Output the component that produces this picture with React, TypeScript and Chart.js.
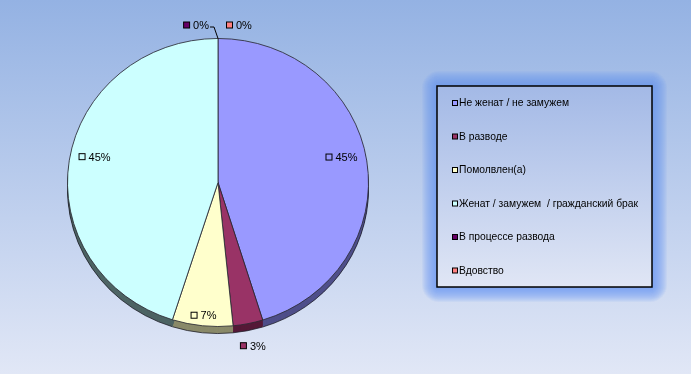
import React, { useEffect, useRef } from "react";
import { Chart, registerables } from "chart.js";

Chart.register(...registerables);

const categories = [
  "Не женат / не замужем",
  "В разводе",
  "Помолвлен(а)",
  "Женат / замужем  / гражданский брак",
  "В процессе развода",
  "Вдовство",
];
const values = [45.2, 3.2, 6.5, 45.1, 0, 0];
const percentLabels = ["45%", "3%", "7%", "45%", "0%", "0%"];
const sliceColors = ["#9999ff", "#993366", "#ffffcc", "#ccffff", "#660066", "#ff8080"];
const sideColors = ["#4f4f8a", "#561a38", "#8a8a6a", "#4d6464", "#330033", "#8f4848"];

// label placement styling (radius factor, alignment, vertical nudge)
const labelRadius = [0.83, 1.16, 0.93, 0.83, 1.09, 1.09];
const labelAlign = ["center", "center", "center", "center", "right", "left"];
const labelNudge = [-7, 0, 0, -7, 0, 0];

const Y_SCALE = 0.957;
const DEPTH = 7;
const FONT = '11px "Liberation Sans", Arial, sans-serif';
const LEGEND_FONT = '10.3px "Liberation Sans", Arial, sans-serif';

function pieGeom(chart: any) {
  const meta = chart.getDatasetMeta(0);
  const a = meta.data[0] as any;
  return { cx: a.x, cy: a.y, r: a.outerRadius, meta };
}

const bgPlugin = {
  id: "bg",
  beforeDraw(chart: any) {
    const { ctx, width, height } = chart;
    ctx.save();
    const g = ctx.createLinearGradient(0, 0, 0, height);
    g.addColorStop(0, "#94b2e3");
    g.addColorStop(1, "#e1e7f6");
    ctx.fillStyle = g;
    ctx.fillRect(0, 0, width, height);
    ctx.restore();
  },
};

const pie3dPlugin = {
  id: "pie3d",
  beforeDatasetsDraw(chart: any) {
    const { ctx } = chart;
    const { cx, cy, meta } = pieGeom(chart);
    ctx.save();
    ctx.translate(cx, cy);
    ctx.scale(1, Y_SCALE);
    ctx.translate(-cx, -cy);
    const d = DEPTH / Y_SCALE;
    meta.data.forEach((arc: any, i: number) => {
      if (arc.endAngle - arc.startAngle <= 0) return;
      for (let k = d; k >= 1; k -= 0.5) {
        ctx.beginPath();
        ctx.moveTo(arc.x, arc.y + k);
        ctx.arc(arc.x, arc.y + k, arc.outerRadius, arc.startAngle, arc.endAngle);
        ctx.closePath();
        ctx.fillStyle = sideColors[i];
        ctx.fill();
      }
      ctx.beginPath();
      ctx.arc(arc.x, arc.y + d, arc.outerRadius, arc.startAngle, arc.endAngle);
      ctx.strokeStyle = "rgba(30,30,40,0.8)";
      ctx.lineWidth = 1;
      ctx.stroke();
    });
  },
  afterDatasetsDraw(chart: any) {
    chart.ctx.restore();
  },
};

const labelPlugin = {
  id: "sliceLabels",
  afterDraw(chart: any) {
    const { ctx } = chart;
    const { cx, cy, r, meta } = pieGeom(chart);
    ctx.save();
    ctx.font = FONT;
    ctx.textBaseline = "middle";
    meta.data.forEach((arc: any, i: number) => {
      const mid = (arc.startAngle + arc.endAngle) / 2;
      const rr = r * labelRadius[i];
      const ax = cx + Math.cos(mid) * rr;
      const ay = cy + Math.sin(mid) * rr * Y_SCALE + labelNudge[i];
      const text = percentLabels[i];
      const tw = ctx.measureText(text).width;
      const w = 6 + 4 + tw;
      let left = ax - w / 2;
      if (labelAlign[i] === "right") left = ax - 9 - w;
      if (labelAlign[i] === "left") left = ax + 8;
      ctx.fillStyle = sliceColors[i];
      ctx.fillRect(left + 0.5, ay - 3.5, 6, 6);
      ctx.strokeStyle = "#000";
      ctx.lineWidth = 1;
      ctx.strokeRect(left + 0.5, ay - 3.5, 6, 6);
      ctx.fillStyle = "#000";
      ctx.textAlign = "left";
      ctx.fillText(text, left + 10, ay + 0.5);
      if (labelAlign[i] === "right") {
        const ex = cx + Math.cos(mid) * r;
        const ey = cy + Math.sin(mid) * r * Y_SCALE;
        ctx.beginPath();
        ctx.moveTo(left + w + 1, ay + 1.5);
        ctx.lineTo(ax - 4, ay + 1.5);
        ctx.lineTo(ex, ey);
        ctx.strokeStyle = "#000";
        ctx.stroke();
      }
    });
    ctx.restore();
  },
};

const legendPlugin = {
  id: "boxLegend",
  afterDraw(chart: any) {
    const { ctx } = chart;
    const x = 437, y = 86, w = 215, h = 201;
    ctx.save();
    for (let k = 15; k >= 1; k--) {
      ctx.beginPath();
      ctx.roundRect(x - k, y - k, w + 2 * k, h + 2 * k, k + 2);
      ctx.fillStyle = "rgba(100,152,238,0.085)";
      ctx.fill();
    }
    const g = ctx.createLinearGradient(0, y, 0, y + h);
    g.addColorStop(0, "#a3b9e6");
    g.addColorStop(1, "#e0e6f5");
    ctx.fillStyle = g;
    ctx.fillRect(x, y, w, h);
    ctx.strokeStyle = "#000";
    ctx.lineWidth = 1.5;
    ctx.strokeRect(x, y, w, h);
    ctx.font = LEGEND_FONT;
    ctx.textBaseline = "middle";
    ctx.textAlign = "left";
    const labels = chart.data.labels as string[];
    labels.forEach((lab: string, i: number) => {
      const iy = 103.5 + i * 33.5;
      ctx.fillStyle = sliceColors[i];
      ctx.fillRect(452.5, iy - 3, 5, 5);
      ctx.strokeStyle = "#000";
      ctx.lineWidth = 1;
      ctx.strokeRect(452.5, iy - 3, 5, 5);
      ctx.fillStyle = "#000";
      ctx.fillText(lab, 459, iy);
    });
    ctx.restore();
  },
};

export default function App() {
  const ref = useRef<HTMLCanvasElement | null>(null);
  useEffect(() => {
    if (!ref.current) return;
    const chart = new Chart(ref.current, {
      type: "pie",
      data: {
        labels: categories,
        datasets: [
          {
            data: values,
            backgroundColor: sliceColors,
            borderColor: "rgba(40,40,50,0.85)",
            borderWidth: 1,
          },
        ],
      },
      options: {
        responsive: false,
        animation: false,
        devicePixelRatio: 1,
        layout: { padding: { left: 67, right: 322, top: 31.5, bottom: 40.5 } },
        plugins: { legend: { display: false }, tooltip: { enabled: false } },
      },
      plugins: [bgPlugin, pie3dPlugin, labelPlugin, legendPlugin],
    } as any);
    return () => chart.destroy();
  }, []);
  return (
    <div style={{ position: "absolute", left: 0, top: 0, width: 691, height: 374 }}>
      <canvas ref={ref} width={691} height={374} />
    </div>
  );
}
